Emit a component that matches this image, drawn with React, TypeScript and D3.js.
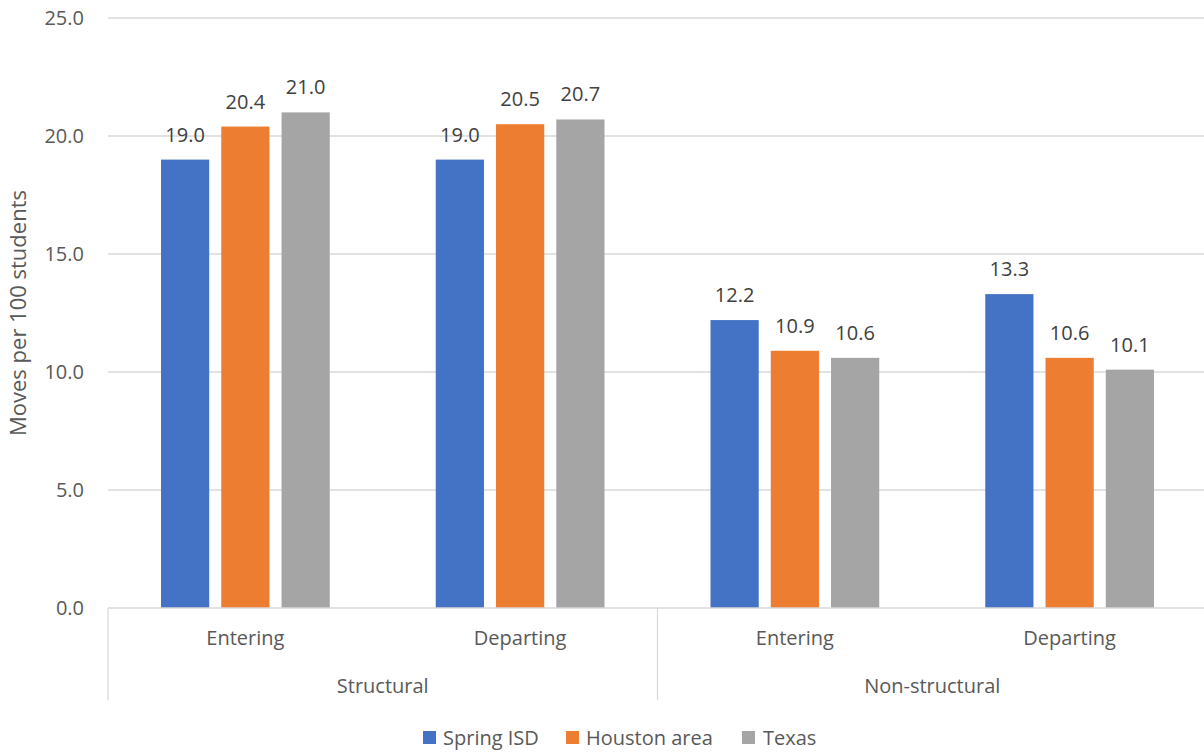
import React from "react";
import * as d3 from "d3";

const groups = ["Structural", "Non-structural"];
const categories = [
  { group: "Structural", sub: "Entering" },
  { group: "Structural", sub: "Departing" },
  { group: "Non-structural", sub: "Entering" },
  { group: "Non-structural", sub: "Departing" },
];
const seriesNames = ["Spring ISD", "Houston area", "Texas"];
const seriesColors = ["#4472C4", "#ED7D31", "#A5A5A5"];
const springISD = [19.0, 19.0, 12.2, 13.3];
const houstonArea = [20.4, 20.5, 10.9, 10.6];
const texas = [21.0, 20.7, 10.6, 10.1];
const yTicks = [0, 5, 10, 15, 20, 25];

const W = 1204;
const H = 755;
const FONT = "'Open Sans', 'Noto Sans', sans-serif";
const TEXT = "#595959";

export default function App() {
  const left = 108;
  const right = 1207;
  const top = 18;
  const bottom = 608;
  const series = [springISD, houstonArea, texas];

  const y = d3.scaleLinear().domain([0, 25]).range([bottom, top]);
  const x0 = d3
    .scaleBand<number>()
    .domain(categories.map((_, i) => i))
    .range([left, right])
    .padding(0);
  const gw = x0.bandwidth();
  const x1 = d3
    .scaleBand<number>()
    .domain(seriesNames.map((_, i) => i))
    .range([53, gw - 53])
    .paddingInner(0.2)
    .paddingOuter(0);

  const groupScale = d3
    .scaleBand<string>()
    .domain(groups)
    .range([left, right])
    .padding(0);

  const legendItems = [
    { x: 423, tx: 443 },
    { x: 566, tx: 586 },
    { x: 742, tx: 763 },
  ];

  return (
    <svg
      width={W}
      height={H}
      style={{ position: "absolute", left: 0, top: 0, background: "#fff" }}
      fontFamily={FONT}
    >
      {yTicks.map((t) => (
        <g key={t}>
          {t > 0 && (
            <line x1={left} x2={W} y1={y(t)} y2={y(t)} stroke="#D9D9D9" strokeWidth={1.3} />
          )}
          <text x={84} y={y(t)} dy="0.35em" textAnchor="end" fontSize={20} fill={TEXT}>
            {d3.format(".1f")(t)}
          </text>
        </g>
      ))}
      <text
        transform={`translate(18,${(top + bottom) / 2}) rotate(-90)`}
        textAnchor="middle"
        dy="0.35em"
        fontSize={22}
        fill={TEXT}
      >
        Moves per 100 students
      </text>

      {categories.map((c, ci) =>
        series.map((vals, si) => {
          const bx = (x0(ci) as number) + (x1(si) as number);
          const bw = x1.bandwidth();
          const v = vals[ci];
          return (
            <g key={`${ci}-${si}`}>
              <rect x={bx} y={y(v)} width={bw} height={bottom - y(v)} fill={seriesColors[si]} />
              <text
                x={bx + bw / 2}
                y={y(v) - 25}
                dy="0.35em"
                textAnchor="middle"
                fontSize={20}
                fill="#404040"
              >
                {d3.format(".1f")(v)}
              </text>
            </g>
          );
        })
      )}

      <line x1={left} x2={W} y1={bottom} y2={bottom} stroke="#D9D9D9" strokeWidth={1.3} />
      {[left, groupScale("Non-structural") as number].map((gx, i) => (
        <line key={i} x1={gx} x2={gx} y1={bottom} y2={700} stroke="#D9D9D9" strokeWidth={1.3} />
      ))}
      {categories.map((c, ci) => (
        <text
          key={ci}
          x={(x0(ci) as number) + gw / 2}
          y={638}
          dy="0.35em"
          textAnchor="middle"
          fontSize={20}
          fill={TEXT}
        >
          {c.sub}
        </text>
      ))}
      {groups.map((g) => (
        <text
          key={g}
          x={(groupScale(g) as number) + groupScale.bandwidth() / 2}
          y={686}
          dy="0.35em"
          textAnchor="middle"
          fontSize={20}
          fill={TEXT}
        >
          {g}
        </text>
      ))}

      {seriesNames.map((s, i) => (
        <g key={s}>
          <rect x={legendItems[i].x} y={731} width={13} height={13} fill={seriesColors[i]} />
          <text x={legendItems[i].tx} y={737.5} dy="0.35em" fontSize={20} fill={TEXT}>
            {s}
          </text>
        </g>
      ))}
    </svg>
  );
}
